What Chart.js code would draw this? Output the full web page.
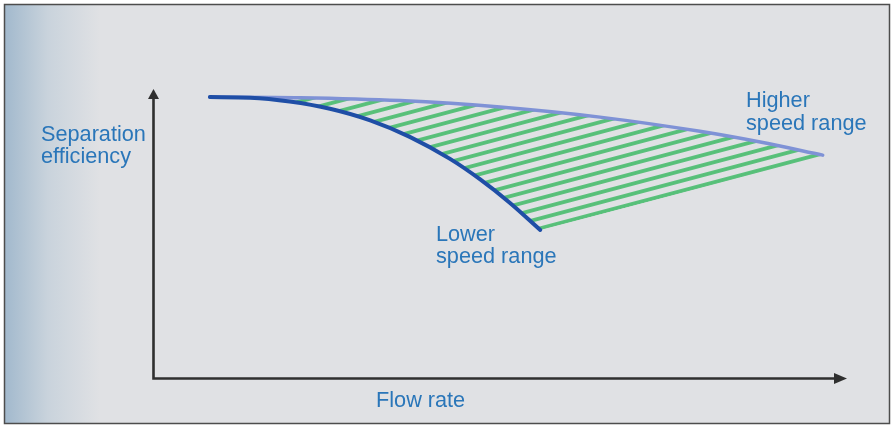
<!DOCTYPE html>
<html>
<head>
<meta charset="utf-8">
<script src="https://cdn.jsdelivr.net/npm/chart.js@4.4.1/dist/chart.umd.min.js"></script>
<style>
  html, body { margin: 0; padding: 0; background: #fff; }
  #wrap { width: 894px; height: 425px; }
</style>
</head>
<body>
<div id="wrap"><canvas id="curveChart" width="894" height="425"></canvas></div>
<script>
// --- data (flow rate 0-100 on x, separation efficiency 0-100 on y) ---
const lowerX = [8.2, 14.0, 19.7, 25.5, 31.3, 37.0, 42.8, 47.1, 51.4, 55.8];
const lowerY = [97.2, 97.0, 95.7, 93.2, 89.2, 83.5, 75.9, 68.9, 60.8, 51.4];
const upperX = [8.2, 21.2, 35.6, 50.0, 64.4, 78.8, 87.5, 96.5];
const upperY = [97.2, 97.0, 96.0, 93.8, 90.3, 85.4, 81.7, 77.2];

const yTitle = ['Separation', 'efficiency'];
const xTitle = 'Flow rate';
const higherLabel = ['Higher', 'speed range'];
const lowerLabel = ['Lower', 'speed range'];

const TEXT_COLOR = '#2a76b9';
const TEXT_FONT = '21.7px "Liberation Sans", Arial, sans-serif';

function toPoints(xs, ys) {
    return xs.map((x, i) => ({ x: x, y: ys[i] }));
}

// --- background panel: grey card with blue fade on the left ---
const panelPlugin = {
    id: 'panel',
    beforeDraw(chart) {
        const ctx = chart.ctx;
        ctx.save();
        ctx.fillStyle = '#ffffff';
        ctx.fillRect(0, 0, chart.width, chart.height);
        const grad = ctx.createLinearGradient(5, 0, 100, 0);
        grad.addColorStop(0, '#a2b9cd');
        grad.addColorStop(0.45, '#c9d3dc');
        grad.addColorStop(1, '#e0e1e4');
        ctx.fillStyle = grad;
        ctx.fillRect(4, 4, 885, 419);
        ctx.strokeStyle = '#4d4d4d';
        ctx.lineWidth = 1.5;
        ctx.strokeRect(4.5, 4.5, 885, 419);
        ctx.restore();
    }
};

// --- green hatching between the two curves ---
function makeHatch(ctx, ox, oy) {
    const gap = 9.7, thick = 3.8;
    const tile = document.createElement('canvas');
    tile.width = 16;
    tile.height = 10;
    const t = tile.getContext('2d');
    t.setTransform(1, 0, 0, 10 / gap, 0, 0);
    t.fillStyle = '#57c079';
    t.fillRect(0, 0, tile.width, thick / 2);
    t.fillRect(0, gap - thick / 2, tile.width, thick / 2);
    const pattern = ctx.createPattern(tile, 'repeat');
    pattern.setTransform(new DOMMatrix().translate(ox, oy).rotate(-14.85).scale(1, gap / 10));
    return pattern;
}

const hatchPlugin = {
    id: 'hatch',
    beforeDatasetsDraw(chart) {
        const ctx = chart.ctx;
        const low = chart.getDatasetMeta(0).dataset;
        const up = chart.getDatasetMeta(1).dataset;
        const lp = low.points, upPts = up.points;
        const lEnd = lp[lp.length - 1], uEnd = upPts[upPts.length - 1];
        const W = chart.width, H = chart.height;
        ctx.save();
        // below the higher speed curve
        ctx.beginPath();
        up.path(ctx);
        ctx.lineTo(uEnd.x, H);
        ctx.lineTo(0, H);
        ctx.lineTo(0, upPts[0].y);
        ctx.closePath();
        ctx.clip();
        // above the lower speed curve and its closing edge
        ctx.beginPath();
        low.path(ctx);
        ctx.lineTo(uEnd.x + 1, uEnd.y + 1);
        ctx.lineTo(W, uEnd.y);
        ctx.lineTo(W, 0);
        ctx.lineTo(0, 0);
        ctx.lineTo(0, lp[0].y);
        ctx.closePath();
        ctx.clip();
        ctx.fillStyle = makeHatch(ctx, lEnd.x, lEnd.y - 1.6);
        ctx.fillRect(0, 0, W, H);
        ctx.restore();
    }
};

// --- axes with arrow heads and the text labels ---
const annotatePlugin = {
    id: 'annotate',
    afterDraw(chart) {
        const ctx = chart.ctx;
        const xs = chart.scales.x, ys = chart.scales.y;
        const x0 = xs.getPixelForValue(0) + 0.5, x1 = xs.getPixelForValue(100);
        const y0 = ys.getPixelForValue(0) - 0.5, y1 = ys.getPixelForValue(100);
        ctx.save();
        ctx.strokeStyle = '#2f2f2f';
        ctx.fillStyle = '#2f2f2f';
        ctx.lineWidth = 2.6;
        ctx.beginPath();
        ctx.moveTo(x0, y1 + 8);
        ctx.lineTo(x0, y0);
        ctx.lineTo(x1 - 10, y0);
        ctx.stroke();
        // arrow heads
        ctx.beginPath();
        ctx.moveTo(x0, y1);
        ctx.lineTo(x0 - 5.5, y1 + 10);
        ctx.lineTo(x0 + 5.5, y1 + 10);
        ctx.closePath();
        ctx.fill();
        ctx.beginPath();
        ctx.moveTo(x1, y0);
        ctx.lineTo(x1 - 13, y0 - 5.5);
        ctx.lineTo(x1 - 13, y0 + 5.5);
        ctx.closePath();
        ctx.fill();

        ctx.fillStyle = TEXT_COLOR;
        ctx.font = TEXT_FONT;
        ctx.textBaseline = 'alphabetic';
        ctx.textAlign = 'left';
        ctx.fillText(yTitle[0], 41, 141);
        ctx.fillText(yTitle[1], 41, 163);
        ctx.fillText(xTitle, 376, 407);
        ctx.fillText(higherLabel[0], 746, 107);
        ctx.fillText(higherLabel[1], 746, 130);
        ctx.fillText(lowerLabel[0], 436, 241);
        ctx.fillText(lowerLabel[1], 436, 263);
        ctx.restore();
    }
};

new Chart(document.getElementById('curveChart'), {
    type: 'line',
    data: {
        datasets: [{
            label: 'Lower speed range',
            data: toPoints(lowerX, lowerY),
            borderColor: '#1f4ea6',
            borderWidth: 4,
            borderCapStyle: 'round',
            pointRadius: 0,
            cubicInterpolationMode: 'monotone',
            fill: false,
            clip: false
        }, {
            label: 'Higher speed range',
            data: toPoints(upperX, upperY),
            borderColor: '#7f92d6',
            borderWidth: 3.5,
            borderCapStyle: 'round',
            pointRadius: 0,
            cubicInterpolationMode: 'monotone',
            fill: false,
            clip: false
        }]
    },
    options: {
        responsive: false,
        animation: false,
        devicePixelRatio: 1,
        layout: { padding: { left: 153, right: 47, top: 89, bottom: 46 } },
        plugins: {
            legend: { display: false },
            tooltip: { enabled: false }
        },
        scales: {
            x: { type: 'linear', min: 0, max: 100, display: false },
            y: { type: 'linear', min: 0, max: 100, display: false }
        }
    },
    plugins: [panelPlugin, hatchPlugin, annotatePlugin]
});
</script>
</body>
</html>
